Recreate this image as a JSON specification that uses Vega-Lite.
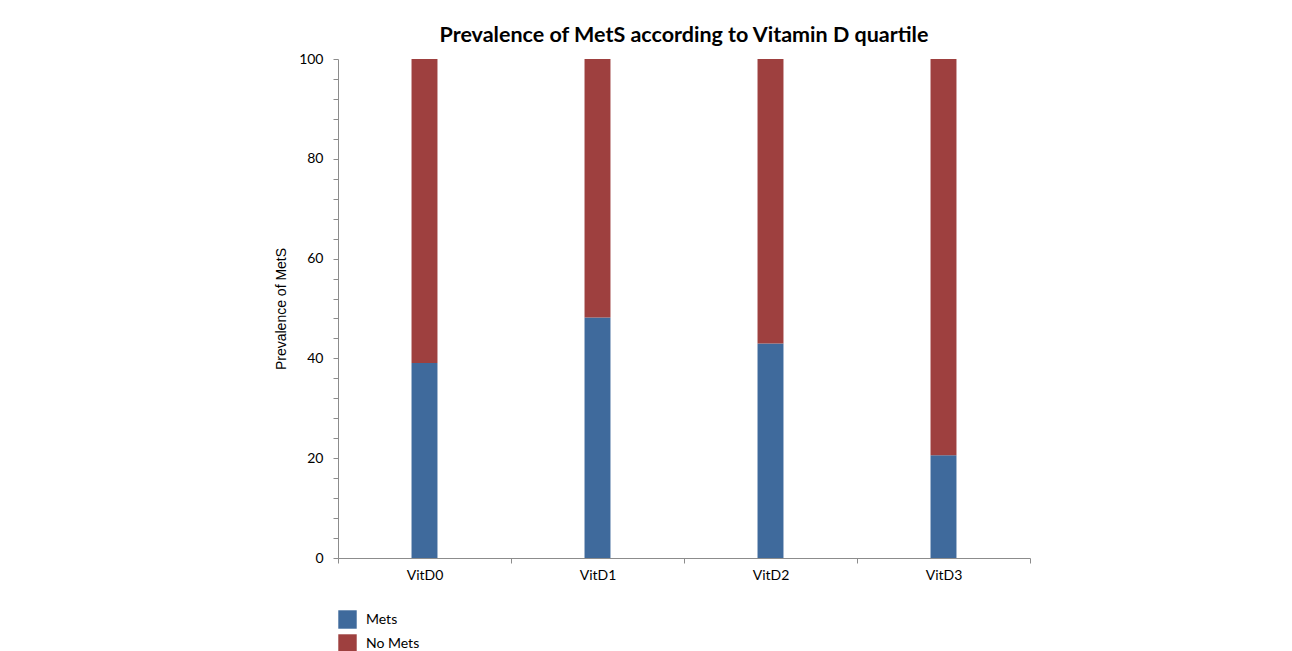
{
  "$schema": "https://vega.github.io/schema/vega-lite/v6.json",
  "width": 692,
  "height": 499,
  "autosize": {"type": "none"},
  "padding": {"left": 338, "top": 59, "right": 262, "bottom": 93},
  "background": "white",
  "title": {
    "text": "Prevalence of MetS according to Vitamin D quartile",
    "font": "Lato",
    "fontSize": 21.5,
    "fontWeight": "bold",
    "color": "#000000",
    "anchor": "middle",
    "offset": 6
  },
  "data": {
    "values": [
      {"quartile": "VitD0", "status": "Mets", "value": 39.1},
      {"quartile": "VitD0", "status": "No Mets", "value": 60.9},
      {"quartile": "VitD1", "status": "Mets", "value": 48.2},
      {"quartile": "VitD1", "status": "No Mets", "value": 51.8},
      {"quartile": "VitD2", "status": "Mets", "value": 43.0},
      {"quartile": "VitD2", "status": "No Mets", "value": 57.0},
      {"quartile": "VitD3", "status": "Mets", "value": 20.6},
      {"quartile": "VitD3", "status": "No Mets", "value": 79.4}
    ]
  },
  "mark": {"type": "bar", "width": {"band": 0.15}},
  "encoding": {
    "x": {
      "field": "quartile",
      "type": "nominal",
      "scale": {"paddingInner": 0, "paddingOuter": 0},
      "axis": {
        "title": null,
        "labelAngle": 0,
        "labelFont": "Lato",
        "labelFontSize": 14,
        "labelColor": "#000000",
        "labelPadding": 5,
        "tickBand": "extent",
        "tickSize": 5,
        "tickColor": "#8c8c8c",
        "domainColor": "#8c8c8c",
        "grid": false
      }
    },
    "y": {
      "field": "value",
      "type": "quantitative",
      "stack": "zero",
      "scale": {"domain": [0, 100], "nice": false},
      "axis": {
        "title": "Prevalence of MetS",
        "titleFont": "Liberation Sans",
        "titleFontSize": 14,
        "titleFontWeight": "normal",
        "titleColor": "#000000",
        "titlePadding": 10,
        "values": [0, 4, 8, 12, 16, 20, 24, 28, 32, 36, 40, 44, 48, 52, 56, 60, 64, 68, 72, 76, 80, 84, 88, 92, 96, 100],
        "labelExpr": "datum.value % 20 === 0 ? datum.label : ''",
        "labelFont": "Lato",
        "labelFontSize": 14,
        "labelColor": "#000000",
        "labelPadding": 10,
        "tickSize": 5,
        "tickColor": "#8c8c8c",
        "domainColor": "#8c8c8c",
        "grid": false
      }
    },
    "color": {
      "field": "status",
      "type": "nominal",
      "scale": {"domain": ["Mets", "No Mets"], "range": ["#3F6A9C", "#9E403F"]},
      "legend": {
        "title": null,
        "orient": "none",
        "legendX": 0,
        "legendY": 551,
        "padding": 0,
        "symbolType": "square",
        "symbolSize": 340,
        "symbolStrokeWidth": 0,
        "symbolOpacity": 1,
        "labelFont": "Lato",
        "labelFontSize": 14,
        "labelColor": "#000000",
        "labelOffset": 9,
        "rowPadding": 5
      }
    },
    "order": {"field": "status", "sort": "ascending"}
  },
  "config": {"view": {"stroke": null}}
}
